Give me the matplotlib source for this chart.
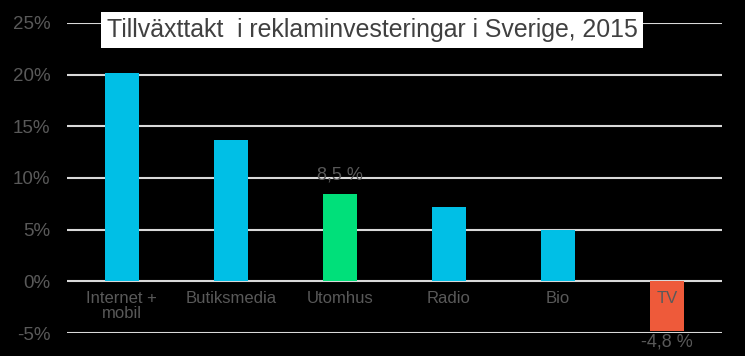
import matplotlib
matplotlib.use('Agg')
import matplotlib.pyplot as plt

# Data
categories = ['Internet +\nmobil', 'Butiksmedia', 'Utomhus', 'Radio', 'Bio', 'TV']
growth = [20.2, 13.7, 8.5, 7.2, 5.0, -4.8]
bar_colors = ['#00BFE6', '#00BFE6', '#00E07A', '#00BFE6', '#00BFE6', '#EE5A3A']
value_labels = {2: '8,5 %', 5: '-4,8 %'}
yticks = [-5, 0, 5, 10, 15, 20, 25]

plt.rcParams['font.family'] = ['Liberation Sans', 'DejaVu Sans']
gray = '#595959'

fig = plt.figure(figsize=(7.45, 3.56), dpi=100, facecolor='black')
ax = fig.add_axes([0.09, 0.0646, 0.879, 0.8708], facecolor='black')

x = list(range(len(categories)))
ax.bar(x, growth, width=0.31, color=bar_colors, zorder=3)

ax.set_xlim(-0.5, 5.5)
ax.set_ylim(-5, 25)
ax.set_yticks(yticks)
ax.set_yticklabels([f'{v}%' for v in yticks], color=gray, fontsize=13.5)
ax.tick_params(axis='y', length=0, pad=12)
ax.set_xticks([])
ax.grid(axis='y', color='#D9D9D9', linewidth=1.5, zorder=1)
for s in ax.spines.values():
    s.set_visible(False)

# category labels under the zero line
for i, lab in enumerate(categories):
    ax.text(i, -0.9, lab, ha='center', va='top', color=gray, fontsize=12,
            linespacing=1.05, zorder=4)

# value labels
ax.text(2, 10.3, value_labels[2], ha='center', va='center', color=gray, fontsize=13, zorder=4)
ax.text(5, -5.9, value_labels[5], ha='center', va='center', color=gray, fontsize=13,
        zorder=4, clip_on=False)

# title in white box
fig.text(0.143, 0.916, 'Tillväxttakt  i reklaminvesteringar i Sverige, 2015',
         ha='left', va='center', fontsize=17.9, color='#404040',
         bbox=dict(boxstyle='square,pad=0.24', facecolor='white', edgecolor='none'))

fig.savefig('out.png', dpi=100, facecolor='black')
